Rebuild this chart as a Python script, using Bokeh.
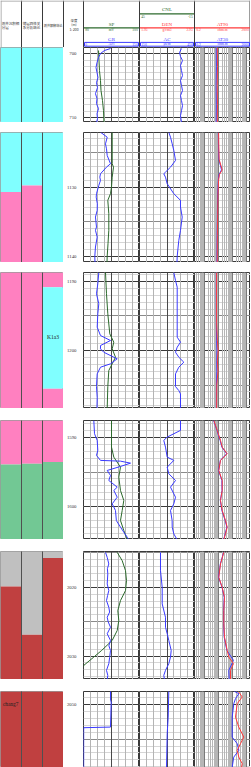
import numpy as np
from bokeh.plotting import figure
from bokeh.layouts import column, row
from bokeh.models import Range1d, Grid, FixedTicker, SingleIntervalTicker, LinearAxis, Spacer
from bokeh.core.properties import value
from bokeh.embed import file_html
from bokeh.resources import INLINE

# ---------------- data ----------------
panel_tops = [699.0, 1122.1, 1188.7, 1587.5, 2014.8, 2048.1]
panel_bottoms = [710.8, 1140.9, 1208.4, 1604.8, 2033.4, 2059.1]

# lithology / facies columns (col index 0..2)
litho_col = [0, 1, 2,
             0, 0, 1, 1, 2,
             0, 1, 2, 2, 2,
             0, 0, 1, 1, 2, 2,
             0, 0, 1, 1, 2, 2,
             0, 1, 2]
litho_top = [699.0, 699.0, 699.0,
             1122.1, 1130.72, 1122.1, 1129.75, 1122.1,
             1188.7, 1188.7, 1188.7, 1190.83, 1205.55,
             1587.5, 1593.89, 1587.5, 1593.78, 1587.5, 1593.55,
             2014.8, 2019.9, 2014.8, 2026.9, 2014.8, 2015.74,
             2048.1, 2048.1, 2048.1]
litho_bottom = [710.8, 710.8, 710.8,
                1130.72, 1140.9, 1129.75, 1140.9, 1140.9,
                1208.4, 1208.4, 1190.83, 1205.55, 1208.4,
                1593.89, 1604.8, 1593.78, 1604.8, 1593.55, 1604.8,
                2019.9, 2033.4, 2026.9, 2033.4, 2015.74, 2033.4,
                2059.1, 2059.1, 2059.1]
litho_type = ["A", "A", "A",
              "A", "B", "A", "B", "A",
              "B", "B", "B", "A", "B",
              "B", "C", "B", "C", "B", "C",
              "D", "E", "D", "E", "D", "E",
              "E", "E", "E"]
litho_colors = {"A": "#80ffff", "B": "#ff80c0", "C": "#72c894", "D": "#c0c0c0", "E": "#c04040"}

note_text = ["K1a3", "chang7"]
note_col = [2, 0]
note_depth = [1198.1, 2049.9]

# GR (API)
gr_depth = [699.16, 699.47, 699.95, 700.58, 701.37, 702.15, 702.94, 703.73, 704.52, 705.31, 706.26, 707.04, 707.83, 708.62, 709.41, 710.2, 710.83,
            1122.06, 1122.78, 1123.74, 1124.46, 1125.43, 1126.62, 1127.11, 1128.07, 1128.56, 1129.03, 1129.75, 1130.95, 1131.44, 1132.4, 1133.36, 1134.33, 1135.77, 1136.25, 1137.22, 1138.66, 1140.0, 1140.87,
            1188.7, 1190.33, 1191.78, 1193.23, 1194.68, 1196.62, 1197.83, 1198.55, 1199.28, 1199.76, 1200.25, 1200.97, 1201.2, 1201.93, 1202.42, 1203.38, 1205.22, 1206.8, 1208.4,
            1587.48, 1589.42, 1590.39, 1591.85, 1592.58, 1593.3, 1593.41, 1593.7, 1594.18, 1594.76, 1595.49, 1596.22, 1597.19, 1597.67, 1598.65, 1599.61, 1600.58, 1602.04, 1603.01, 1604.47, 1604.85,
            2014.93, 2015.65, 2016.61, 2017.3, 2018.06, 2019.51, 2020.48, 2021.2, 2021.93, 2022.9, 2023.6, 2024.35, 2025.0, 2025.8, 2026.75, 2027.72, 2028.5, 2029.17, 2030.2, 2031.1, 2032.07, 2032.8, 2033.42,
            2048.03, 2049.38, 2049.62, 2053.25, 2053.34, 2059.1]
gr_value = [72.3, 56.3, 45.5, 40.2, 36.2, 33.5, 36.2, 38.8, 34.8, 37.5, 32.1, 36.2, 34.8, 40.2, 36.2, 37.5, 34.8,
            45.5, 63.5, 58.9, 61.6, 63.5, 72.3, 61.6, 45.5, 43.7, 45.5, 41.0, 34.8, 34.0, 37.0, 36.7, 32.1, 34.8, 32.1, 36.7, 32.1, 30.3, 30.8,
            41.0, 38.3, 34.8, 41.0, 38.3, 36.7, 45.5, 72.3, 45.5, 45.5, 54.4, 81.2, 90.3, 72.3, 45.5, 36.7, 34.8, 36.7, 36.0,
            27.6, 29.5, 36.7, 38.3, 34.8, 45.5, 99.1, 125.9, 99.1, 63.5, 72.3, 67.8, 90.3, 81.2, 90.3, 76.9, 85.7, 88.0, 99.1, 117.1, 121.4,
            58.9, 63.5, 67.8, 64.0, 65.1, 63.5, 67.8, 64.5, 61.6, 67.8, 70.0, 63.5, 66.0, 72.3, 63.5, 72.3, 68.0, 72.3, 70.0, 67.8, 61.6, 65.1, 63.5,
            72.3, 72.3, 74.2, 72.3, 0.5, 0.5]

# SP (mV)
sp_depth = [699.47, 701.05, 702.63, 704.21, 705.78, 707.36, 708.94, 710.83,
            1122.06, 1126.62, 1127.11, 1128.56, 1129.99, 1130.95, 1131.91, 1133.84, 1136.25, 1138.17, 1140.0, 1140.87,
            1188.7, 1191.78, 1194.68, 1197.58, 1198.79, 1199.76, 1200.97, 1201.93, 1202.9, 1205.22, 1208.4,
            1587.48, 1591.37, 1592.82, 1594.28, 1595.73, 1597.67, 1599.13, 1600.58, 1602.04, 1603.49, 1604.85,
            2014.93, 2016.13, 2017.58, 2019.03, 2020.48, 2021.93, 2023.38, 2024.83, 2026.28, 2027.72, 2029.17, 2030.14, 2031.35, 2032.5]
sp_value = [85.36, 85.54, 85.71, 86.07, 86.25, 86.79, 87.14, 87.32,
            90.25, 90.25, 90.71, 90.25, 90.0, 89.64, 88.68, 89.04, 89.04, 88.75, 88.46, 88.39,
            87.86, 88.21, 88.68, 89.39, 90.82, 90.25, 91.43, 90.25, 89.04, 88.68, 88.46,
            90.0, 90.0, 90.82, 93.21, 92.61, 93.21, 94.39, 93.82, 93.21, 94.39, 95.61,
            92.04, 93.82, 95.0, 95.36, 95.0, 93.21, 92.25, 92.61, 92.04, 90.25, 86.5, 83.68, 80.1, 78.0]

# AC (us/m)
ac_depth = [699.16, 699.79, 700.42, 701.05, 701.84, 702.63, 703.42, 704.21, 704.99, 705.78, 706.57, 707.36, 708.15, 708.94, 709.73, 710.83,
            1122.06, 1122.78, 1123.74, 1124.7, 1126.14, 1127.11, 1127.83, 1128.07, 1128.56, 1129.51, 1130.95, 1131.91, 1132.88, 1134.33, 1136.25, 1137.7, 1140.0, 1140.87,
            1188.7, 1189.86, 1190.82, 1198.07, 1198.79, 1199.52, 1200.25, 1200.97, 1201.69, 1202.42, 1203.38, 1205.22, 1205.8, 1206.28, 1208.4,
            1587.48, 1588.94, 1589.91, 1590.39, 1591.37, 1592.82, 1593.3, 1594.28, 1595.24, 1596.22, 1597.19, 1598.65, 1599.61, 1600.58, 1602.04, 1603.01, 1603.98, 1604.85,
            2014.93, 2017.58, 2020.0, 2022.41, 2024.35, 2025.8, 2026.75, 2027.72, 2029.17, 2030.14, 2031.1, 2032.07, 2032.8, 2033.42,
            2048.03, 2051.8, 2054.2, 2059.1]
ac_value = [379.1, 368.2, 373.6, 384.5, 373.6, 379.1, 384.5, 373.6, 379.1, 384.5, 373.6, 379.1, 384.5, 379.1, 373.6, 379.1,
            309.8, 319.1, 328.4, 337.1, 346.4, 319.1, 291.8, 282.5, 291.8, 301.1, 337.1, 373.6, 373.6, 382.9, 373.6, 364.4, 355.6, 354.5,
            337.1, 346.4, 355.6, 355.6, 373.6, 355.6, 346.4, 364.4, 391.6, 364.4, 346.4, 346.4, 364.4, 373.6, 373.6,
            373.6, 373.6, 301.1, 282.5, 291.8, 301.1, 337.1, 301.1, 309.8, 346.4, 319.1, 346.4, 337.1, 319.1, 328.0, 328.4, 337.1, 355.6,
            264.5, 264.5, 273.8, 273.8, 291.8, 291.8, 301.1, 309.8, 322.9, 319.1, 309.8, 291.8, 282.5, 286.4,
            309.8, 306.5, 301.1, 297.3]

# AT90 (ohm.m)
at90_depth = [699.0, 702.0, 705.0, 708.0, 710.8,
              1122.1, 1124.0, 1126.0, 1127.5, 1128.2, 1129.0, 1131.0, 1134.0, 1137.0, 1140.9,
              1188.7, 1192.0, 1196.0, 1198.5, 1200.0, 1201.5, 1203.0, 1205.0, 1208.4,
              1587.48, 1588.94, 1590.39, 1591.37, 1592.33, 1593.3, 1594.76, 1596.22, 1597.67, 1599.13, 1600.58, 1602.04, 1603.0, 1603.98, 1604.85,
              2014.93, 2016.61, 2018.55, 2020.0, 2021.45, 2023.38, 2025.3, 2027.25, 2029.17, 2030.14, 2031.1, 2032.07, 2033.4,
              2048.17, 2048.9, 2049.86, 2051.8, 2053.25, 2054.7, 2055.65, 2056.62, 2057.59, 2058.55, 2059.1]
at90_value = [8.5, 8.8, 8.4, 8.7, 8.5,
              10.5, 10.9, 11.5, 19.0, 12.0, 10.5, 9.5, 9.0, 8.6, 8.4,
              7.6, 7.5, 7.6, 8.5, 9.8, 8.6, 9.5, 7.8, 7.6,
              4.8, 8.4, 14.4, 19.0, 43.3, 14.4, 10.9, 19.0, 19.0, 14.4, 19.0, 32.8, 43.3, 32.8, 24.8,
              24.8, 14.4, 10.9, 19.0, 27.8, 24.8, 24.8, 27.8, 43.3, 56.4, 122.0, 74.5, 74.5,
              292, 511, 224, 170, 292, 663, 386, 224, 292, 511, 450]

# AT30 (ohm.m)
at30_depth = [699.0, 702.0, 705.0, 708.0, 710.8,
              1122.1, 1124.0, 1126.0, 1127.5, 1128.2, 1129.0, 1131.0, 1134.0, 1137.0, 1140.9,
              1188.7, 1192.0, 1196.0, 1198.5, 1200.0, 1201.5, 1203.0, 1205.0, 1208.4,
              1587.48, 1588.94, 1590.39, 1591.37, 1592.33, 1593.3, 1594.76, 1596.22, 1597.67, 1599.13, 1600.58, 1602.04, 1603.0, 1603.98, 1604.85,
              2014.93, 2016.61, 2018.55, 2020.0, 2021.45, 2023.38, 2025.3, 2027.25, 2029.17, 2030.62, 2032.07, 2033.4,
              2048.03, 2048.41, 2049.13, 2049.86, 2051.8, 2054.7, 2055.65, 2056.62, 2057.59, 2059.04]
at30_value = [7.1, 7.3, 7.0, 7.2, 7.1,
              10.0, 10.3, 11.0, 17.0, 11.2, 10.0, 9.0, 8.6, 8.2, 8.0,
              7.3, 7.2, 7.3, 7.6, 8.0, 7.8, 7.9, 7.4, 7.3,
              4.6, 8.0, 13.5, 18.0, 40.0, 14.0, 10.5, 18.0, 18.5, 14.0, 18.0, 31.0, 41.0, 31.0, 24.0,
              24.0, 14.0, 10.5, 18.5, 26.5, 24.0, 24.0, 26.5, 41.0, 122.0, 56.4, 60.0,
              128, 292, 170, 128, 98.6, 98.6, 224, 292, 128, 98.6]

# header texts
col_titles = [["测井沉积相", "分层"], ["储层四性关", "系分析结论"], ["测井解释结论"]]
depth_title = ["深度", "(m)", "1: 200"]
curve_names = ["CNL", "SP", "DEN", "AT90", "GR", "AC", "AT30"]
curve_track = [1, 0, 1, 2, 0, 1, 2]
curve_row = [0, 1, 1, 1, 2, 2, 2]
curve_left = ["45", "80", "1.95", "0.2", "0", "150", "0.2"]
curve_unit = ["", "mV", "g/cm3", "ohm.m", "API", "μs/m", "ohm.m"]
curve_right = ["-15", "100", "2.95", "2000", "150", "450", "2000"]

gr_range = (0, 150)
sp_range = (80, 100)
ac_range = (150, 450)
rt_range = (0.2, 2000)

# ---------------- styling / layout ----------------
SERIF = "Liberation Serif"
CJK = "Noto Sans CJK SC"
BLUE = "#3a3aff"
RED = "#ff3a3a"
GREEN = "#2c6a2c"
W_LITH, W_DEPTH, W_T1, W_T2, W_T3 = 63, 20, 56, 55, 56
TOTAL_W = W_LITH + W_DEPTH + W_T1 + W_T2 + W_T3
HEADER_H = 47
panel_heights = [75, 130, 136, 119, 128, 76]
panel_gaps = [10, 10, 12, 12, 12]
curve_colors = {"CNL": GREEN, "SP": GREEN, "DEN": RED, "AT90": RED, "GR": BLUE, "AC": BLUE, "AT30": BLUE}


def new_fig(width, height, x_range, y_range, x_axis_type="linear", border_left=0):
    p = figure(width=width, height=height, x_range=x_range, y_range=y_range,
               x_axis_type=x_axis_type, x_axis_location=None, y_axis_location=None,
               toolbar_location=None, output_backend="svg",
               min_border=0, min_border_left=border_left,
               min_border_right=0, min_border_top=0, min_border_bottom=0)
    p.grid.visible = False
    p.outline_line_color = "#3a3a3a"
    p.outline_line_width = 1
    p.background_fill_color = "white"
    p.border_fill_color = "white"
    return p


def add_depth_grid(p):
    for interval, color in [(1, "#d6d6d6"), (5, "#8a8a8a"), (10, "#3a3a3a")]:
        p.add_layout(Grid(dimension=1,
                          ticker=SingleIntervalTicker(interval=interval, num_minor_ticks=0),
                          grid_line_color=color, grid_line_width=1))


def add_linear_vgrid(p, lo, hi):
    t = list(np.linspace(lo, hi, 9))
    minor = [t[i] for i in (1, 2, 3, 5, 6, 7)]
    p.add_layout(Grid(dimension=0, ticker=FixedTicker(ticks=minor),
                      grid_line_color="#b4b4b4", grid_line_width=1))
    p.add_layout(Grid(dimension=0, ticker=FixedTicker(ticks=[t[4]]),
                      grid_line_color="#4a4a4a", grid_line_width=1))


def sel(depth, vals, top, bot):
    d = np.asarray(depth, dtype=float)
    v = np.asarray(vals, dtype=float)
    m = (d >= top - 0.6) & (d <= bot + 0.6)
    return d[m], v[m]


def make_panel(i):
    top, bot = panel_tops[i], panel_bottoms[i]
    h = panel_heights[i]
    yr = Range1d(start=bot, end=top)

    # lithology columns
    lp = new_fig(W_LITH, h, Range1d(0, 3), yr)
    lp.outline_line_color = "#9a9a9a"
    idx = [k for k in range(len(litho_col)) if litho_bottom[k] > top and litho_top[k] < bot]
    lp.quad(left=[litho_col[k] for k in idx], right=[litho_col[k] + 1 for k in idx],
            top=[litho_top[k] for k in idx], bottom=[litho_bottom[k] for k in idx],
            fill_color=[litho_colors[litho_type[k]] for k in idx], line_color=None)
    lp.add_layout(Grid(dimension=0, ticker=FixedTicker(ticks=[1, 2]),
                       grid_line_color="#505050", grid_line_width=1, level="overlay"))
    for k in range(len(note_text)):
        if top <= note_depth[k] <= bot:
            if note_col[k] == 0:
                lp.text(x=[note_col[k] + 0.12], y=[note_depth[k]], text=[note_text[k]],
                        text_align="left", text_baseline="middle",
                        text_font=value(SERIF), text_font_size="5.3px", text_color="#222222")
            else:
                lp.text(x=[note_col[k] + 0.5], y=[note_depth[k]], text=[note_text[k]],
                        text_align="center", text_baseline="middle",
                        text_font=value(SERIF), text_font_size="5.5px", text_color="#222222")

    # track 1: SP / GR with depth axis on its left
    t1 = new_fig(W_DEPTH + W_T1, h, Range1d(*gr_range), yr, border_left=W_DEPTH)
    t1.extra_x_ranges = {"sp": Range1d(*sp_range)}
    add_depth_grid(t1)
    add_linear_vgrid(t1, *gr_range)
    ax = LinearAxis(ticker=SingleIntervalTicker(interval=10, num_minor_ticks=0))
    ax.axis_line_color = None
    ax.major_tick_line_color = None
    ax.minor_tick_line_color = None
    ax.major_tick_out = 0
    ax.major_tick_in = 0
    ax.major_label_standoff = 7
    ax.major_label_text_font = SERIF
    ax.major_label_text_font_size = "4.8px"
    ax.major_label_text_color = "#333333"
    t1.add_layout(ax, "left")
    d, v = sel(sp_depth, sp_value, top, bot)
    if len(d):
        t1.line(x=v, y=d, line_color=GREEN, line_width=1, x_range_name="sp")
    d, v = sel(gr_depth, gr_value, top, bot)
    if len(d):
        t1.line(x=v, y=d, line_color=BLUE, line_width=1)

    # track 2: AC
    t2 = new_fig(W_T2, h, Range1d(*ac_range), yr)
    add_depth_grid(t2)
    add_linear_vgrid(t2, *ac_range)
    d, v = sel(ac_depth, ac_value, top, bot)
    if len(d):
        t2.line(x=v, y=d, line_color=BLUE, line_width=1)

    # track 3: resistivity, log scale
    t3 = new_fig(W_T3, h, Range1d(*rt_range), yr, x_axis_type="log")
    add_depth_grid(t3)
    minor = []
    decades = []
    for e in range(-1, 4):
        for m in range(1, 10):
            val = m * 10.0 ** e
            if rt_range[0] < val < rt_range[1]:
                (decades if m == 1 else minor).append(val)
    t3.add_layout(Grid(dimension=0, ticker=FixedTicker(ticks=minor),
                       grid_line_color="#b6b6b6", grid_line_width=1))
    t3.add_layout(Grid(dimension=0, ticker=FixedTicker(ticks=decades),
                       grid_line_color="#7a7a7a", grid_line_width=1))
    d, v = sel(at30_depth, at30_value, top, bot)
    if len(d):
        t3.line(x=v, y=d, line_color=BLUE, line_width=1)
    d, v = sel(at90_depth, at90_value, top, bot)
    if len(d):
        t3.line(x=v, y=d, line_color=RED, line_width=1)

    return row(lp, t1, t2, t3)


# ---------------- header ----------------
hdr = figure(width=TOTAL_W, height=HEADER_H, x_range=Range1d(0, TOTAL_W), y_range=Range1d(HEADER_H, 0),
             x_axis_location=None, y_axis_location=None, toolbar_location=None,
             output_backend="svg", min_border=0)
hdr.grid.visible = False
hdr.outline_line_color = None
hdr.background_fill_color = "white"
hdr.border_fill_color = "white"

col_edges = [0, 21, 42, W_LITH]
track_left = [W_LITH + W_DEPTH, W_LITH + W_DEPTH + W_T1, W_LITH + W_DEPTH + W_T1 + W_T2]
track_right = [track_left[1], track_left[2], TOTAL_W]
sep_x = [0.5, 21, 42, W_LITH, track_left[0], track_left[1], track_left[2], TOTAL_W - 0.5]
sep_c = ["#9a9a9a"] + ["#3a3a3a"] * 7
hdr.segment(x0=sep_x, y0=[0] * len(sep_x), x1=sep_x, y1=[HEADER_H] * len(sep_x),
            line_color=sep_c, line_width=1)
hdr.segment(x0=[0], y0=[0.5], x1=[TOTAL_W], y1=[0.5], line_color="#9a9a9a", line_width=1)

tx, ty, tt = [], [], []
for c, lines in enumerate(col_titles):
    if len(lines) == 1:
        ys = [25.0]
    else:
        ys = [23.2, 26.9]
    for ln, yy in zip(lines, ys):
        tx.append(col_edges[c] + 1.3)
        ty.append(yy)
        tt.append(ln)
hdr.text(x=tx[:4], y=ty[:4], text=tt[:4], text_align="left", text_baseline="middle",
         text_font=value(CJK), text_font_size="3.5px", text_color="#333333")
hdr.text(x=tx[4:], y=ty[4:], text=tt[4:], text_align="left", text_baseline="middle",
         text_font=value(CJK), text_font_size="3.1px", text_color="#333333")

dcx = (W_LITH + track_left[0]) / 2.0 + 0.5
hdr.text(x=[dcx] * 3, y=[19.7, 23.5, 29.0], text=depth_title, text_align="center",
         text_baseline="middle", text_font=value(CJK), text_font_size="3.4px", text_color="#333333")

label_y = {0: 9.0, 1: 24.3, 2: 39.2}
line_y = {0: 13.3, 1: 27.3}
scale_y = {0: 15.6, 1: 29.4, 2: 43.8}
for k, name in enumerate(curve_names):
    t = curve_track[k]
    r = curve_row[k]
    L, R = track_left[t], track_right[t]
    cx = (L + R) / 2.0
    col = curve_colors[name]
    hdr.text(x=[cx], y=[label_y[r]], text=[name], text_align="center", text_baseline="middle",
             text_font=value(SERIF), text_font_size="5px", text_color=col)
    if r < 2:
        hdr.segment(x0=[L + 0.5], y0=[line_y[r]], x1=[R - 0.5], y1=[line_y[r]],
                    line_color=col, line_width=1.2)
    else:
        hdr.quad(left=[L + 1], right=[R - 1], top=[41.9], bottom=[45.7],
                 fill_color=None, line_color=col, line_width=1)
    hdr.text(x=[L + 1.8], y=[scale_y[r]], text=[curve_left[k]], text_align="left",
             text_baseline="middle", text_font=value(SERIF), text_font_size="3.6px", text_color=col)
    hdr.text(x=[R - 1.8], y=[scale_y[r]], text=[curve_right[k]], text_align="right",
             text_baseline="middle", text_font=value(SERIF), text_font_size="3.6px", text_color=col)
    if curve_unit[k]:
        hdr.text(x=[cx], y=[scale_y[r]], text=[curve_unit[k]], text_align="center",
                 text_baseline="middle", text_font=value(SERIF), text_font_size="3.6px", text_color=col)

items = [hdr]
for i in range(len(panel_tops)):
    if i > 0:
        items.append(Spacer(width=TOTAL_W, height=panel_gaps[i - 1]))
    items.append(make_panel(i))

layout = column(items)
open("out.html", "w").write(file_html(layout, INLINE))
